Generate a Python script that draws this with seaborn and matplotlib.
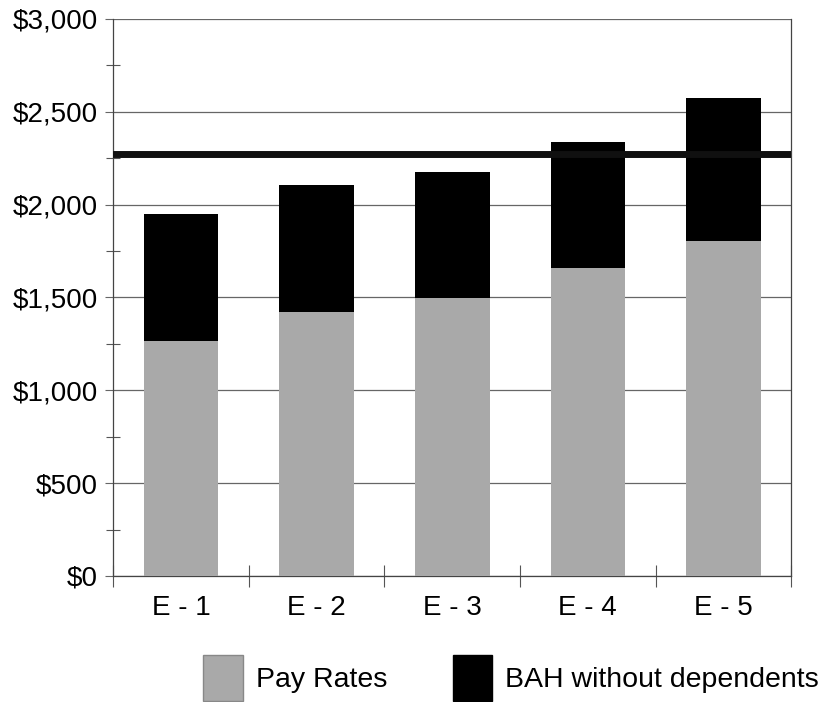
import numpy as np
import pandas as pd
import matplotlib
matplotlib.use('Agg')
import matplotlib.pyplot as plt
import seaborn as sns
from matplotlib.ticker import MultipleLocator, FuncFormatter
from matplotlib.patches import Patch

# data
grades = ['E - 1', 'E - 2', 'E - 3', 'E - 4', 'E - 5']
pay_rates = [1265, 1422, 1497, 1659, 1804]
bah_no_dep = [684, 683, 679, 678, 770]
ref_line = 2272

sns.set_style('white')
plt.rcParams['font.family'] = ['Liberation Sans', 'DejaVu Sans']
plt.rcParams['text.color'] = 'black'
plt.rcParams['xtick.color'] = 'black'
plt.rcParams['ytick.color'] = 'black'

df = pd.DataFrame({'grade': grades, 'pay': pay_rates, 'bah': bah_no_dep})
df['total'] = df['pay'] + df['bah']

fig = plt.figure(figsize=(8.2, 7.02), dpi=100)
ax = fig.add_axes([0.138, 0.1795, 0.827, 0.7935])

gray = '#a9a9a9'
# stacked bars: total in black, pay drawn over it in gray
sns.barplot(data=df, x='grade', y='total', color='black', width=0.55,
            saturation=1, linewidth=0, ax=ax, zorder=2)
sns.barplot(data=df, x='grade', y='pay', color=gray, width=0.55,
            saturation=1, linewidth=0, ax=ax, zorder=3)

# thick reference line
ax.axhline(ref_line, color='#101010', lw=5, zorder=4)

ax.set_ylim(0, 3000)
ax.set_xlim(-0.5, 4.5)
ax.yaxis.set_major_locator(MultipleLocator(500))
ax.yaxis.set_minor_locator(MultipleLocator(250))
ax.yaxis.set_major_formatter(FuncFormatter(lambda v, p: f'${v:,.0f}'))
ax.grid(True, axis='y', which='major', color='#666666', lw=0.9, zorder=0)

ax.set_xticks(np.arange(-0.5, 5, 1), minor=True)
ax.tick_params(bottom=True, left=True, which='both')
ax.tick_params(axis='x', which='major', length=0, pad=14, labelsize=20)
ax.tick_params(axis='x', which='minor', direction='inout', length=16,
               width=0.8, color='#555555')
ax.tick_params(axis='y', which='major', length=6, width=0.8,
               color='#666666', pad=5, labelsize=20)
ax.tick_params(axis='y', which='minor', direction='inout', length=10,
               width=0.8, color='#555555')
ax.set_xlabel('')
ax.set_ylabel('')

for side in ['left', 'right', 'bottom']:
    ax.spines[side].set_visible(True)
    ax.spines[side].set_color('#444444')
    ax.spines[side].set_linewidth(0.9)
ax.spines['top'].set_visible(False)

handles = [Patch(facecolor=gray, edgecolor='#888888', label='Pay Rates'),
           Patch(facecolor='black', edgecolor='black', label='BAH without dependents')]
fig.legend(handles=handles, loc='lower right', bbox_to_anchor=(1.03, -0.035),
           ncol=2, frameon=False, fontsize=20.5, handlelength=1.4,
           handleheight=2.1, handletextpad=0.45, columnspacing=2.3)

fig.savefig('out.png', dpi=100)
